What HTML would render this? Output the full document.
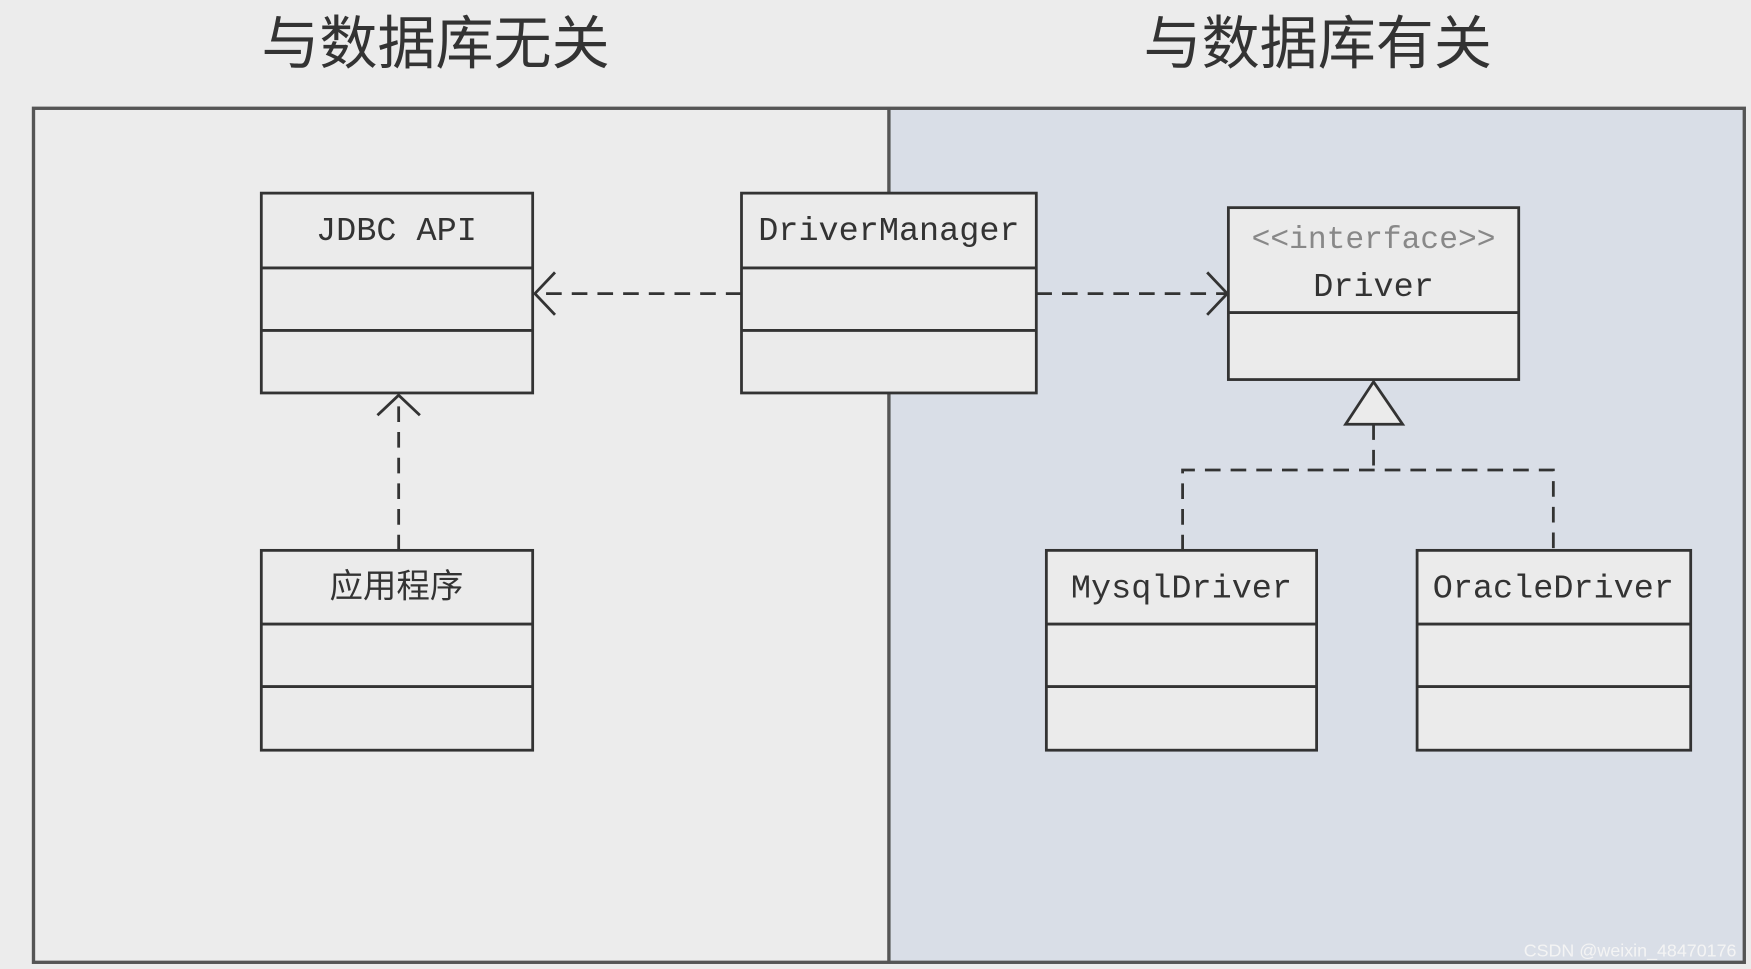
<!DOCTYPE html>
<html><head><meta charset="utf-8"><style>
html,body{margin:0;padding:0;background:#ececec;width:1751px;height:969px;overflow:hidden}
svg{display:block}
.m{font-family:"Liberation Mono","Noto Sans CJK SC",monospace;font-size:30px;fill:#333;text-anchor:middle}
</style></head><body>
<svg width="1751" height="969" viewBox="0 0 1568 868" preserveAspectRatio="none" xmlns="http://www.w3.org/2000/svg">
<rect x="0" y="0" width="1568" height="868" fill="#ececec"/>
<text x="390" y="57" font-family="'Noto Sans CJK SC',sans-serif" font-size="52" fill="#333" text-anchor="middle">与数据库无关</text>
<text x="1180" y="57" font-family="'Noto Sans CJK SC',sans-serif" font-size="52" fill="#333" text-anchor="middle">与数据库有关</text>
<rect x="796" y="97" width="766" height="765" fill="#d9dee7"/>
<rect x="30" y="97" width="1532" height="765" fill="none" stroke="#555" stroke-width="3"/>
<line x1="796" y1="97" x2="796" y2="862" stroke="#555" stroke-width="3"/>
<g fill="#ebebeb" stroke="#333" stroke-width="2.5">
<rect x="234" y="173" width="243" height="179"/><line x1="234" y1="240" x2="477" y2="240"/><line x1="234" y1="296" x2="477" y2="296"/>
<rect x="664" y="173" width="264" height="179"/><line x1="664" y1="240" x2="928" y2="240"/><line x1="664" y1="296" x2="928" y2="296"/>
<rect x="1100" y="186" width="260" height="154"/><line x1="1100" y1="280" x2="1360" y2="280"/>
<rect x="234" y="493" width="243" height="179"/><line x1="234" y1="559" x2="477" y2="559"/><line x1="234" y1="615" x2="477" y2="615"/>
<rect x="937" y="493" width="242" height="179"/><line x1="937" y1="559" x2="1179" y2="559"/><line x1="937" y1="615" x2="1179" y2="615"/>
<rect x="1269" y="493" width="245" height="179"/><line x1="1269" y1="559" x2="1514" y2="559"/><line x1="1269" y1="615" x2="1514" y2="615"/>
</g>
<g stroke="#333" stroke-width="2.5" fill="none">
<line x1="664" y1="263" x2="480" y2="263" stroke-dasharray="14,9"/>
<polyline points="497,244 479,263 497,282"/>
<line x1="928" y1="263" x2="1098" y2="263" stroke-dasharray="14,9"/>
<polyline points="1081,244 1099,263 1081,282"/>
<line x1="357" y1="493" x2="357" y2="355" stroke-dasharray="14,9"/>
<polyline points="338,372 357,354 376,372"/>
<line x1="1230" y1="380" x2="1230" y2="421" stroke-dasharray="14,9"/>
<polyline points="1059,493 1059,421 1391,421 1391,493" stroke-dasharray="14,9"/>
<polygon points="1230,342 1205,380 1256,380" fill="#ebebeb"/>
</g>
<text class="m" x="355" y="215">JDBC API</text>
<text class="m" x="796" y="215">DriverManager</text>
<text class="m" x="1230" y="222" style="fill:#888;font-size:28px">&lt;&lt;interface&gt;&gt;</text>
<text class="m" x="1230" y="265">Driver</text>
<text class="m" x="355" y="535">应用程序</text>
<text class="m" x="1058" y="535">MysqlDriver</text>
<text class="m" x="1391" y="535">OracleDriver</text>
<text x="1555" y="857" font-family="'Liberation Sans',sans-serif" font-size="16" fill="#f4f4f4" text-anchor="end">CSDN @weixin_48470176</text>
</svg>
</body></html>
